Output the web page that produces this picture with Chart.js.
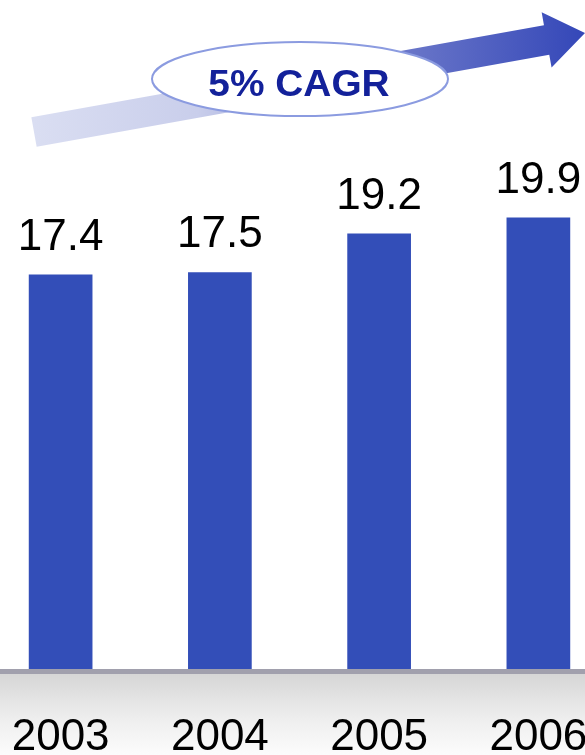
<!DOCTYPE html>
<html>
<head>
<meta charset="utf-8">
<script src="https://cdn.jsdelivr.net/npm/chart.js@4/dist/chart.umd.min.js"></script>
<style>
  html, body { margin: 0; padding: 0; background: #fff; }
  #wrap { position: relative; width: 585px; height: 755px; overflow: hidden; }
  #chart { position: absolute; left: -19px; top: 0; }
</style>
</head>
<body>
<div id="wrap">
  <canvas id="chart" width="637" height="755"></canvas>
</div>
<script>
var years = ['2003', '2004', '2005', '2006'];
var values = [17.4, 17.5, 19.2, 19.9];
var cagrLabel = '5% CAGR';

var FONT = '"Liberation Sans", Arial, sans-serif';
var SHIFT = 19; // canvas sits 19px left of the page

// grey floor band under the axis line
var floorBand = {
  id: 'floorBand',
  beforeDraw: function(chart) {
    var ctx = chart.ctx;
    var top = chart.chartArea.bottom + 2.5;
    var g = ctx.createLinearGradient(0, top, 0, chart.height);
    g.addColorStop(0, '#d6d6d6');
    g.addColorStop(0.55, '#eeeeee');
    g.addColorStop(1, '#fcfcfc');
    ctx.save();
    ctx.fillStyle = g;
    ctx.fillRect(0, top, chart.width, chart.height - top);
    ctx.restore();
  }
};

// growth arrow + CAGR ellipse
var cagrArrow = {
  id: 'cagrArrow',
  afterDraw: function(chart) {
    var ctx = chart.ctx;
    ctx.save();
    ctx.translate(SHIFT, 0);

    var sx = 34, sy = 132, tx = 585, ty = 33;
    var dx = tx - sx, dy = ty - sy, len = Math.sqrt(dx * dx + dy * dy);
    var ux = dx / len, uy = dy / len, nx = -uy, ny = ux;
    function pt(s, t) { return [sx + s * ux + t * nx, sy + s * uy + t * ny]; }
    var headAt = len - 39;
    var pts = [pt(0, -15), pt(headAt, -15), pt(headAt, -28), pt(len, 0),
               pt(headAt, 28), pt(headAt, 15), pt(0, 15)];

    var g = ctx.createLinearGradient(32, 0, 585, 0);
    g.addColorStop(0, '#dadef2');
    g.addColorStop(0.3, '#c9ceeb');
    g.addColorStop(0.65, '#6e7aca');
    g.addColorStop(1, '#3447b8');
    ctx.fillStyle = g;
    ctx.beginPath();
    ctx.moveTo(pts[0][0], pts[0][1]);
    for (var i = 1; i < pts.length; i++) ctx.lineTo(pts[i][0], pts[i][1]);
    ctx.closePath();
    ctx.fill();

    ctx.beginPath();
    ctx.ellipse(300, 79, 148, 37, 0, 0, Math.PI * 2);
    ctx.fillStyle = '#ffffff';
    ctx.fill();
    ctx.lineWidth = 2;
    ctx.strokeStyle = '#8b9be0';
    ctx.stroke();

    ctx.translate(299, 96);
    ctx.scale(1.05, 1);
    ctx.fillStyle = '#13219a';
    ctx.font = 'bold 37px ' + FONT;
    ctx.textAlign = 'center';
    ctx.textBaseline = 'alphabetic';
    ctx.fillText(cagrLabel, 0, 0);
    ctx.restore();
  }
};

// value labels above bars
var barValues = {
  id: 'barValues',
  afterDatasetsDraw: function(chart) {
    var ctx = chart.ctx;
    var meta = chart.getDatasetMeta(0);
    ctx.save();
    ctx.fillStyle = '#000';
    ctx.font = '44px ' + FONT;
    ctx.textAlign = 'center';
    ctx.textBaseline = 'alphabetic';
    meta.data.forEach(function(bar, i) {
      ctx.fillText(values[i].toFixed(1), bar.x, bar.y - 25);
    });
    ctx.restore();
  }
};

new Chart(document.getElementById('chart').getContext('2d'), {
  type: 'bar',
  data: {
    labels: years,
    datasets: [{
      data: values,
      backgroundColor: '#334eb8',
      borderWidth: 0,
      barPercentage: 0.4,
      categoryPercentage: 1
    }]
  },
  options: {
    responsive: false,
    animation: false,
    layout: { padding: { top: 10, left: 0, right: 0, bottom: 0 } },
    plugins: { legend: { display: false }, tooltip: { enabled: false } },
    scales: {
      x: {
        grid: { display: false, drawTicks: false },
        border: { display: true, color: '#a1a0ad', width: 5, z: 1 },
        ticks: { color: '#000', font: { family: FONT, size: 44 }, padding: 40, maxRotation: 0 },
        afterFit: function(scale) {
          scale.height = 83.5;
          scale.paddingLeft = 0;
          scale.paddingRight = 0;
        }
      },
      y: {
        display: false,
        min: 0,
        max: 29
      }
    }
  },
  plugins: [floorBand, cagrArrow, barValues]
});
</script>
</body>
</html>
